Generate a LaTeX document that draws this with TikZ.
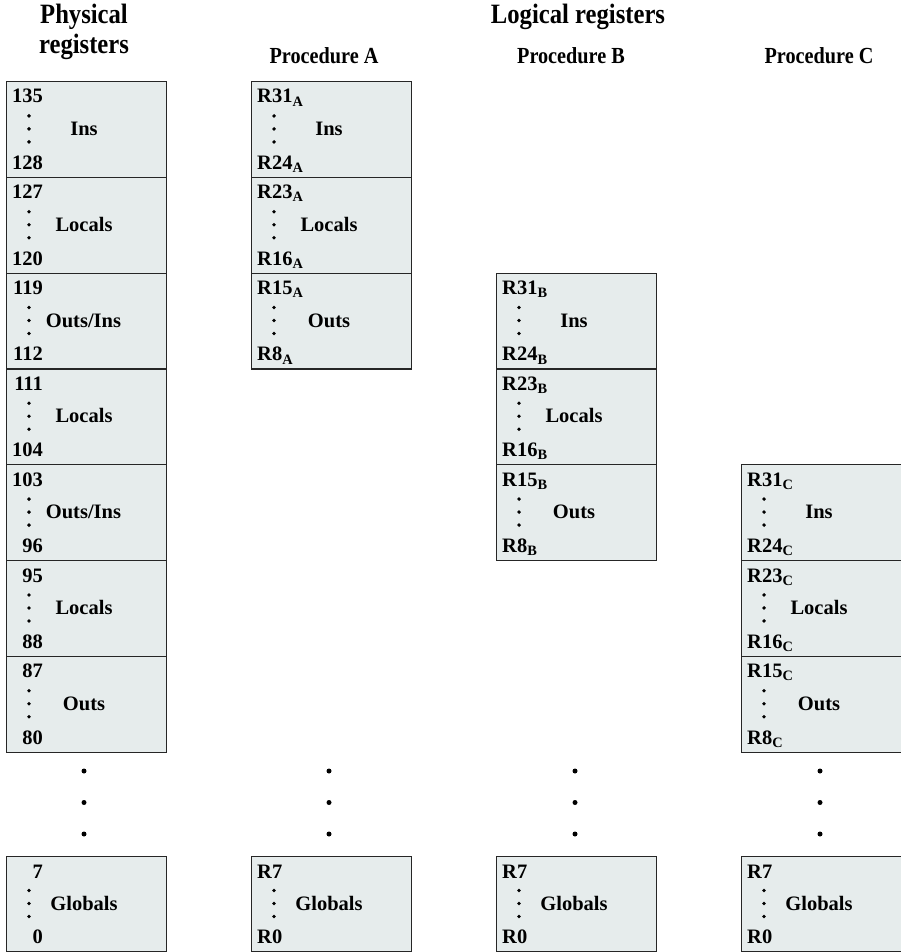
\documentclass[tikz,border=0pt]{standalone}
\usepackage{fontspec}
\setmainfont{Liberation Serif}
\newfontfamily\condserif[FakeStretch=0.88]{Liberation Serif}
\begin{document}
\begin{tikzpicture}[x=1pt,y=-1pt,
  blk/.style={draw=black!85, line width=1.2pt, fill=boxfill, rectangle, inner sep=0pt, minimum width=160pt, minimum height=95.8pt},
  lbl/.style={inner sep=0pt, font=\fontsize{20.5}{24}\selectfont\bfseries},
  head/.style={inner sep=0pt, font=\condserif\fontsize{28}{32}\selectfont\bfseries},
  subhead/.style={inner sep=0pt, font=\condserif\fontsize{23}{26}\selectfont\bfseries},
  bigdot/.style={fill=black, draw=none, circle, inner sep=0pt, minimum size=5pt},
  smalldot/.style={fill=black, draw=none, circle, inner sep=0pt, minimum size=3.8pt}
]
\definecolor{boxfill}{RGB}{230,236,236}
\useasboundingbox (0,0) rectangle (901,952);

% ---- headings
\node[head, anchor=base] (hph1) at (84,24) {Physical};
\node[head, anchor=base] (hph2) at (84,53.5) {registers};
\node[head, anchor=base] (hlog) at (578,24) {Logical registers};
\node[subhead, anchor=base] (hA) at (324,64) {Procedure A};
\node[subhead, anchor=base] (hB) at (571,64) {Procedure B};
\node[subhead, anchor=base] (hC) at (819,64) {Procedure C};

% ---- generic block: name, left, top, height, mid label, mid x offset
\newcommand\regbox[6]{%
  \node[blk, minimum height=#4pt, anchor=north west] (#1) at (#2,#3) {};
  \node[smalldot] (#1-d1) at ({#2+23},{#3+#4/2-13}) {};
  \node[smalldot] (#1-d2) at ({#2+23},{#3+#4/2}) {};
  \node[smalldot] (#1-d3) at ({#2+23},{#3+#4/2+13}) {};
  \node[lbl, anchor=base] (#1-m) at ({#2+#6},{#3+#4/2+6.5}) {#5};
}
% physical labels: right-aligned numbers
\newcommand\physlab[5]{% name, left, top, top, bottom
  \node[lbl, anchor=base east] (#1-t) at ({#2+37},{#3+22}) {#4};
  \node[lbl, anchor=base east] (#1-b) at ({#2+37},{#3+95.8-7.5}) {#5};
}
\newcommand\loglab[5]{% name, left, top, top, bottom
  \node[lbl, anchor=base west] (#1-t) at ({#2+6},{#3+22}) {#4};
  \node[lbl, anchor=base west] (#1-b) at ({#2+6},{#3+95.8-7.5}) {#5};
}

% ---- physical registers
\regbox{p1}{6}{81}{95.8}{Ins}{78}
\physlab{p1}{6}{81}{135}{128}
\regbox{p2}{6}{176.8}{95.8}{Locals}{78}
\physlab{p2}{6}{176.8}{127}{120}
\regbox{p3}{6}{272.6}{95.8}{Outs/Ins}{77.5}
\physlab{p3}{6}{272.6}{119}{112}
\regbox{p4}{6}{368.4}{95.8}{Locals}{78}
\physlab{p4}{6}{368.4}{111}{104}
\regbox{p5}{6}{464.2}{95.8}{Outs/Ins}{77.5}
\physlab{p5}{6}{464.2}{103}{96}
\regbox{p6}{6}{560}{95.8}{Locals}{78}
\physlab{p6}{6}{560}{95}{88}
\regbox{p7}{6}{655.8}{95.8}{Outs}{78}
\physlab{p7}{6}{655.8}{87}{80}

% ---- procedure A
\regbox{a1}{251}{81}{95.8}{Ins}{78}
\loglab{a1}{251}{81}{R31\textsubscript{A}}{R24\textsubscript{A}}
\regbox{a2}{251}{176.8}{95.8}{Locals}{78}
\loglab{a2}{251}{176.8}{R23\textsubscript{A}}{R16\textsubscript{A}}
\regbox{a3}{251}{272.6}{95.8}{Outs}{78}
\loglab{a3}{251}{272.6}{R15\textsubscript{A}}{R8\textsubscript{A}}

% ---- procedure B
\regbox{b1}{496}{272.6}{95.8}{Ins}{78}
\loglab{b1}{496}{272.6}{R31\textsubscript{B}}{R24\textsubscript{B}}
\regbox{b2}{496}{368.4}{95.8}{Locals}{78}
\loglab{b2}{496}{368.4}{R23\textsubscript{B}}{R16\textsubscript{B}}
\regbox{b3}{496}{464.2}{95.8}{Outs}{78}
\loglab{b3}{496}{464.2}{R15\textsubscript{B}}{R8\textsubscript{B}}

% ---- procedure C
\regbox{c1}{741}{464.2}{95.8}{Ins}{78}
\loglab{c1}{741}{464.2}{R31\textsubscript{C}}{R24\textsubscript{C}}
\regbox{c2}{741}{560}{95.8}{Locals}{78}
\loglab{c2}{741}{560}{R23\textsubscript{C}}{R16\textsubscript{C}}
\regbox{c3}{741}{655.8}{95.8}{Outs}{78}
\loglab{c3}{741}{655.8}{R15\textsubscript{C}}{R8\textsubscript{C}}

% ---- ellipsis dots
\foreach \cx/\nm in {84/p, 329/a, 575/b, 820/c}{
  \node[bigdot] (\nm-e1) at (\cx,771) {};
  \node[bigdot] (\nm-e2) at (\cx,802.5) {};
  \node[bigdot] (\nm-e3) at (\cx,834) {};
}

% ---- globals
\regbox{pg}{6}{856}{95}{Globals}{78}
\node[lbl, anchor=base east] (pg-t) at (43,878) {7};
\node[lbl, anchor=base east] (pg-b) at (43,943.5) {0};
\regbox{ag}{251}{856}{95}{Globals}{78}
\node[lbl, anchor=base west] (ag-t) at (257,878) {R7};
\node[lbl, anchor=base west] (ag-b) at (257,943.5) {R0};
\regbox{bg}{496}{856}{95}{Globals}{78}
\node[lbl, anchor=base west] (bg-t) at (502,878) {R7};
\node[lbl, anchor=base west] (bg-b) at (502,943.5) {R0};
\regbox{cg}{741}{856}{95}{Globals}{78}
\node[lbl, anchor=base west] (cg-t) at (747,878) {R7};
\node[lbl, anchor=base west] (cg-b) at (747,943.5) {R0};
\end{tikzpicture}
\end{document}
